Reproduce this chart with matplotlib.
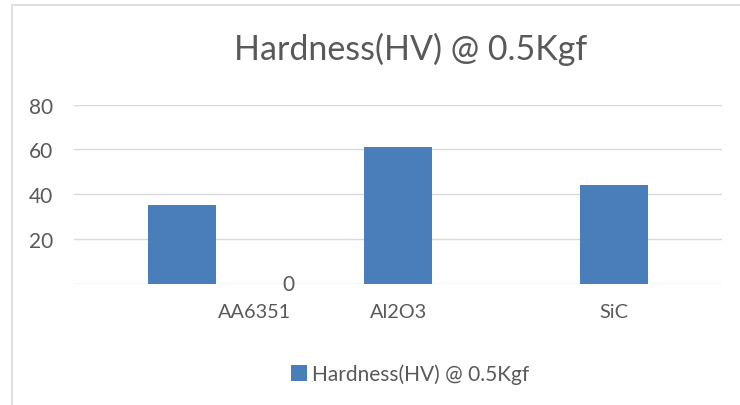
import matplotlib
matplotlib.use("Agg")
import matplotlib.pyplot as plt
from matplotlib.patches import Rectangle
from matplotlib.transforms import offset_copy, ScaledTranslation

categories = ["AA6351", "Al2O3", "SiC"]
hardness = [35, 61, 44]
series_name = "Hardness(HV) @ 0.5Kgf"
title = "Hardness(HV) @ 0.5Kgf"
yticks = [20, 40, 60, 80]
grid_levels = [0, 20, 40, 60, 80]
zero_label = "0"

W, H = 740, 406
DPI = 100
plt.rcParams['font.family'] = ['Lato', 'DejaVu Sans']
fig = plt.figure(figsize=(W / DPI, H / DPI), dpi=DPI)
fig.patch.set_facecolor("white")

# chart border (left and top visible)
fig.patches.append(Rectangle((12 / W, -0.05), 1.1, 1 - 6 / H + 0.05, transform=fig.transFigure,
                             fill=False, edgecolor="#d9d9d9", linewidth=1.2))

left, right = 74, 722
y0px, y80px = 284.5, 105.5
ax = fig.add_axes([left / W, 1 - y0px / H, (right - left) / W, (y0px - y80px) / H])
ax.set_xlim(-0.5, len(categories) - 0.5)
ax.set_ylim(0, 80)
for s in ax.spines.values():
    s.set_visible(False)
for g in grid_levels:
    ax.axhline(g, color="#d9d9d9", linewidth=1.0, zorder=0)

bars = ax.bar(range(len(categories)), hardness, width=0.315, color="#4A7EBB",
              zorder=2, label=series_name)

txtcolor = "#595959"
ax.set_yticks(yticks)
ax.set_yticklabels([str(v) for v in yticks])
ax.tick_params(axis="y", length=0, pad=15, labelsize=15, labelcolor=txtcolor)
ax.set_xticks(range(len(categories)))
ax.set_xticklabels(categories)
ax.tick_params(axis="x", length=0, pad=14, labelsize=14.3, labelcolor=txtcolor)

# first category label is shifted right in the reference
lbl0 = ax.get_xticklabels()[0]
lbl0.set_transform(lbl0.get_transform() + ScaledTranslation(73 / DPI, 0, fig.dpi_scale_trans))

# stray "0" data label next to first bar
ax.text(0, 0, zero_label, transform=offset_copy(ax.transData, fig=fig, x=106, y=-1, units="dots"),
        ha="center", va="center", fontsize=15, color=txtcolor)

fig.text(411 / W, 1 - 49 / H, title, ha="center", va="center", fontsize=24.5, color=txtcolor)

fig.legend(handles=[bars], labels=[series_name], loc="center",
           bbox_to_anchor=(410 / W, 1 - 375 / H), frameon=False, fontsize=15,
           handlelength=0.75, handleheight=0.75, handletextpad=0.25, labelcolor=txtcolor)

fig.savefig("out.png", dpi=DPI, facecolor="white")
